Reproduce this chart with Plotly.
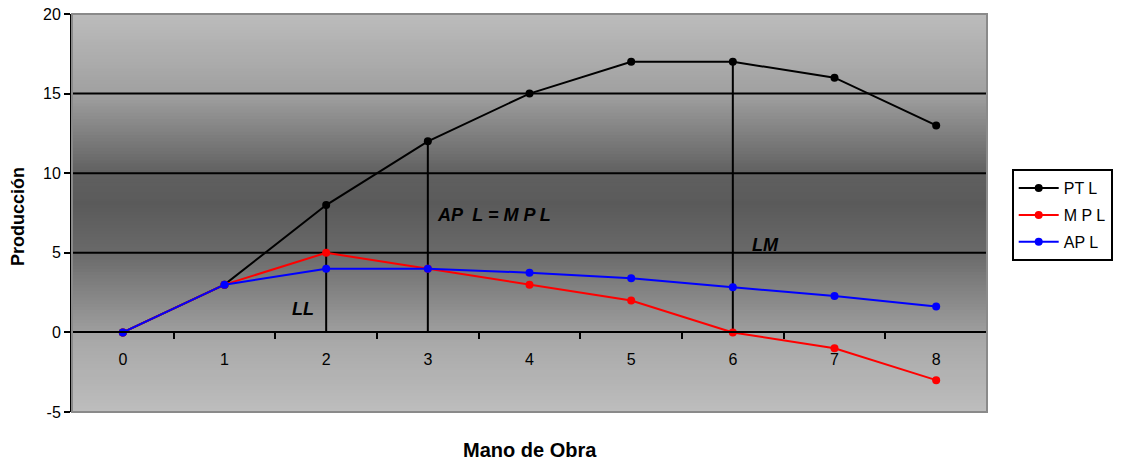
import plotly.graph_objects as go
import numpy as np

# ---- data ----
labor = ["0", "1", "2", "3", "4", "5", "6", "7", "8"]
pt_l = [0, 3, 8, 12, 15, 17, 17, 16, 13]
mp_l = [0, 3, 5, 4, 3, 2, 0, -1, -3]
ap_l = [0, 3, 4, 4, 3.75, 3.4, 2.83, 2.29, 1.63]
drop_at = ["2", "3", "6"]          # vertical reference lines (LL, AP=MP, LM)
y_ticks = [-5, 0, 5, 10, 15, 20]
y_tick_text = ["-5", "0", "5", "10", "15", "20"]
grid_vals = [5, 10, 15]

FONT = "Arial, Liberation Sans, sans-serif"
fig = go.Figure()

# drop lines from x-axis to total product curve
for c in drop_at:
    v = pt_l[labor.index(c)]
    fig.add_trace(go.Scatter(x=[c, c], y=[0, v], mode="lines",
                             line=dict(color="black", width=2),
                             showlegend=False, hoverinfo="skip"))

series = [("PT L", pt_l, "black"), ("M P L", mp_l, "#ff0000"), ("AP L", ap_l, "#0000ff")]
for i, (name, vals, col) in enumerate(series):
    fig.add_trace(go.Scatter(x=labor, y=vals, name=name, mode="lines+markers",
                             line=dict(color=col, width=2),
                             marker=dict(color=col, size=8),
                             legendgroup=f"g{i}"))

# ---- gradient background (plot area) ----
stops = [(-5, 0xbd), (0, 0xa6), (0.01, 0x9e), (5, 0x6a), (8, 0x5a), (10, 0x60),
         (15, 0xa0), (20, 0xbc)]
sy = np.array([s[0] for s in stops], float)
sc = np.array([s[1] for s in stops], float)
N = 125
shapes = []
for k in range(N):
    y0 = -5 + 25 * k / N
    y1 = -5 + 25 * (k + 1) / N
    g = int(round(np.interp((y0 + y1) / 2, sy, sc)))
    col = f"rgb({g},{g},{g})"
    shapes.append(dict(type="rect", xref="x domain", yref="y", x0=0, x1=1,
                       y0=y0, y1=y1 + 0.05, fillcolor=col, line=dict(width=0),
                       layer="below"))
# horizontal grid lines
for gv in grid_vals:
    shapes.append(dict(type="line", xref="x domain", yref="y", x0=0, x1=1, y0=gv, y1=gv,
                       line=dict(color="black", width=2), layer="below"))
# plot area border
shapes.append(dict(type="rect", xref="x domain", yref="y domain", x0=0, x1=1, y0=0, y1=1,
                   line=dict(color="#8a8a8a", width=2), layer="above"))

zero_pos = (0 - (-5)) / 25

fig.update_layout(
    width=1122, height=463,
    margin=dict(l=72, r=135, t=14, b=51, autoexpand=False),
    paper_bgcolor="white", plot_bgcolor="#a0a0a0",
    font=dict(family=FONT, size=15, color="black"),
    shapes=shapes,
    showlegend=True,
    legend=dict(x=1.027, y=0.61, xanchor="left", yanchor="top",
                bgcolor="white", bordercolor="black", borderwidth=2,
                font=dict(family=FONT, size=16, color="black"),
                tracegroupgap=3, itemwidth=40),
    xaxis=dict(type="category", categoryorder="array", categoryarray=labor,
               range=[-0.5, 8.5], anchor="free", position=zero_pos, automargin=False,
               showline=True, linecolor="black", linewidth=2,
               ticks="outside", ticklen=6, tickwidth=2, tickcolor="black",
               tickson="boundaries", showgrid=False, zeroline=False,
               ticklabelstandoff=12, tickfont=dict(size=16)),
    yaxis=dict(range=[-5, 20], tickvals=y_ticks, ticktext=y_tick_text,
               showgrid=False, zeroline=False, automargin=False,
               showline=True, linecolor="black", linewidth=2,
               ticks="outside", ticklen=6, tickwidth=2, tickcolor="black",
               tickfont=dict(size=16)),
    annotations=[
        dict(text="<b>Producción</b>", xref="paper", yref="paper", x=-0.059, y=0.49,
             textangle=-90, showarrow=False, font=dict(size=18), xanchor="center", yanchor="middle"),
        dict(text="<b>Mano de Obra</b>", xref="paper", yref="paper", x=0.5005, y=-0.095,
             showarrow=False, font=dict(size=20), xanchor="center", yanchor="middle"),
        dict(text="<b><i>AP  L = M P L</i></b>", x=3.07, y=7.4, xref="x", yref="y",
             showarrow=False, xanchor="left", yanchor="middle", font=dict(size=18)),
        dict(text="<b><i>LL</i></b>", x=1.9, y=1.5, xref="x", yref="y",
             showarrow=False, xanchor="right", yanchor="middle", font=dict(size=18)),
        dict(text="<b><i>LM</i></b>", x=6.17, y=5.5, xref="x", yref="y",
             showarrow=False, xanchor="left", yanchor="middle", font=dict(size=18)),
    ],
)

fig.write_html("out.html")
